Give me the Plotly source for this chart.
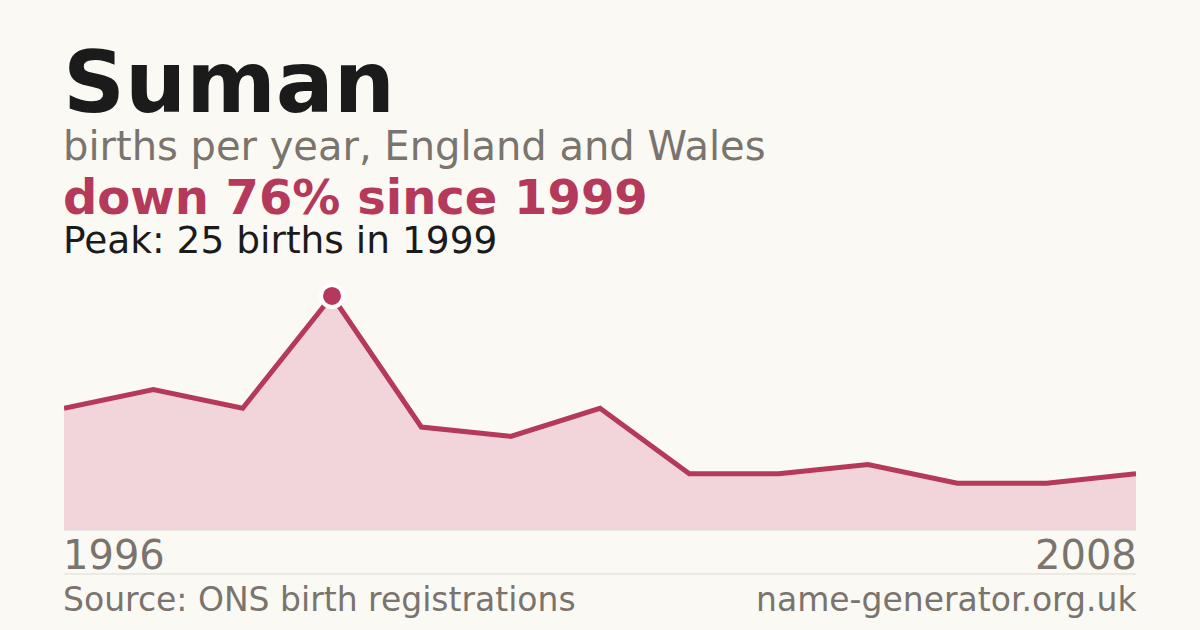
import plotly.graph_objects as go

# births per year for the name, England and Wales
years = list(range(1996, 2009))
births = [13, 15, 13, 25, 11, 10, 13, 6, 6, 7, 5, 5, 6]

name = "Suman"
subtitle = "births per year, England and Wales"
source = "Source: ONS birth registrations"
site = "name-generator.org.uk"

RED = "#b5395a"
FILL = "#f1d5db"
GREY = "#7a746e"
INK = "#1b1b1b"
BG = "#faf9f4"
RULE = "#dedbd4"
FONT = "DejaVu Sans"

peak = max(births)
peak_year = years[births.index(peak)]
drop = round((1 - births[-1] / peak) * 100)

# plot area spans pixels 64..1136 across and 270..530 down
LEFT, RIGHT = 64, 1136
TOP, BOT = 270, 530
PAD = 3 / (RIGHT - LEFT)  # annotation box padding, in paper units


def py(pixel):
    return (BOT - pixel) / (BOT - TOP)


fig = go.Figure()
fig.add_trace(go.Scatter(
    x=years, y=births, mode="lines", fill="tozeroy",
    fillcolor=FILL, line=dict(color=RED, width=5),
    hoverinfo="skip",
))
fig.add_trace(go.Scatter(
    x=[peak_year], y=[peak], mode="markers",
    marker=dict(size=22, color=RED, line=dict(color="white", width=4)),
    hoverinfo="skip",
))


def label(text, x, y, size, color, bold=False, anchor="left"):
    fig.add_annotation(
        text=f"<b>{text}</b>" if bold else text,
        x=x, y=py(y), xref="paper", yref="paper",
        xanchor=anchor, yanchor="middle", showarrow=False,
        font=dict(family=FONT, size=size, color=color),
    )


label(name, -PAD, 82, 86, INK, bold=True)
label(subtitle, -PAD, 146, 40, GREY)
label(f"down {drop}% since {peak_year}", -PAD, 197, 48, RED, bold=True)
label(f"Peak: {peak} births in {peak_year}", -PAD, 240, 37.5, INK)
label(str(years[0]), -PAD, 555, 40, GREY)
label(str(years[-1]), 1 + PAD, 555, 40, GREY, anchor="right")
label(source, -PAD, 599, 33, GREY)
label(site, 1 + PAD, 599, 33, GREY, anchor="right")

for y in (530, 574):
    fig.add_shape(type="line", xref="paper", yref="paper",
                  x0=0, x1=1, y0=py(y), y1=py(y),
                  line=dict(color=RULE, width=1))

fig.update_layout(
    width=1200, height=630,
    margin=dict(l=LEFT, r=1200 - RIGHT, t=TOP, b=630 - BOT),
    paper_bgcolor=BG, plot_bgcolor=BG,
    showlegend=False,
    xaxis=dict(range=[years[0], years[-1]], visible=False, fixedrange=True),
    yaxis=dict(range=[0, peak * 1.111], visible=False, fixedrange=True),
)

# drop the default page margin so the figure fills the window
fig.write_html("out.html", config={"displayModeBar": False},
               post_script="document.body.style.margin='0';")
